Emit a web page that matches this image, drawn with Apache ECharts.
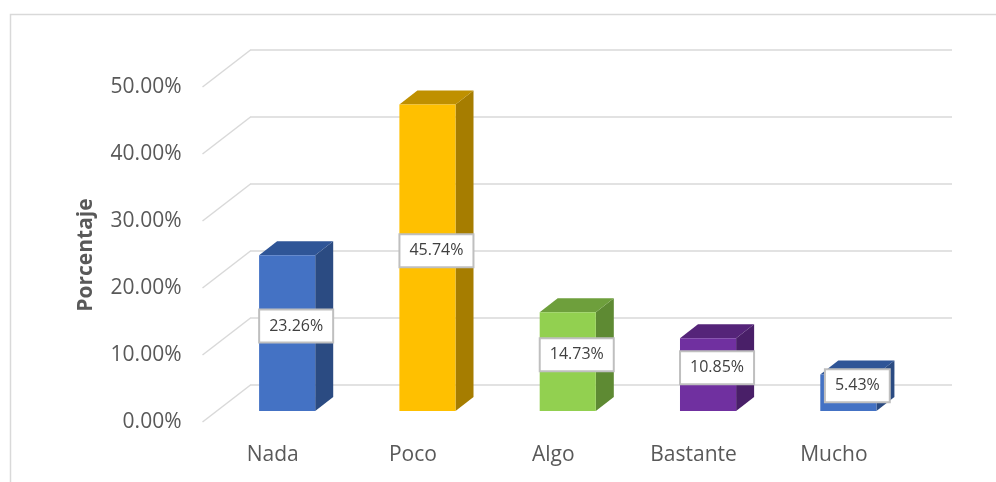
<!DOCTYPE html>
<html>
<head>
<meta charset="utf-8">
<script src="https://cdn.jsdelivr.net/npm/echarts@6/dist/echarts.min.js"></script>
<style>html,body{margin:0;padding:0;background:#fff}#c{width:996px;height:482px}</style>
</head>
<body>
<div id="c"></div>
<script>
var categories = ['Nada', 'Poco', 'Algo', 'Bastante', 'Mucho'];
var values = [23.26, 45.74, 14.73, 10.85, 5.43];
var yTicks = [0, 10, 20, 30, 40, 50];
var frontColors = ['#4472C4', '#FFC000', '#92D050', '#7030A0', '#4472C4'];
var topColors = ['#2F5597', '#BF9000', '#6E9F3C', '#552479', '#2F5597'];
var sideColors = ['#2B4B82', '#A67D00', '#5E8A33', '#491F68', '#2B4B82'];

var FONT = '"Open Sans", "Noto Sans", sans-serif';
var WALL_DEPTH = [48, -37];
var BAR_DEPTH = [18, -14];

var chart = echarts.init(document.getElementById('c'), null, {renderer: 'canvas'});

function barRender(params, api) {
  var idx = api.value(0);
  var v = api.value(1);
  var top = api.coord([idx, v]);
  var base = api.coord([idx, 0]);
  var w = api.size([1, 0])[0] * 0.4;
  var x0 = top[0] - w / 2, x1 = top[0] + w / 2;
  var yt = top[1], yb = base[1];
  var dx = BAR_DEPTH[0], dy = BAR_DEPTH[1];
  var i = params.dataIndex;
  return {
    type: 'group',
    children: [
      {type: 'polygon', shape: {points: [[x1, yt], [x1 + dx, yt + dy], [x1 + dx, yb + dy], [x1, yb]]},
        style: {fill: sideColors[i]}},
      {type: 'polygon', shape: {points: [[x0, yt], [x0 + dx, yt + dy], [x1 + dx, yt + dy], [x1, yt]]},
        style: {fill: topColors[i]}},
      {type: 'rect', shape: {x: x0, y: yt, width: w, height: yb - yt},
        style: {fill: frontColors[i]}},
      {type: 'text', z2: 10,
        x: top[0] + dx / 2, y: (yt + yb) / 2 + dy / 2,
        style: {
          text: v.toFixed(2) + '%',
          fill: '#404040', font: '16px ' + FONT, lineHeight: 19,
          align: 'center', verticalAlign: 'middle',
          backgroundColor: '#FFFFFF', borderColor: '#BFBFBF', borderWidth: 2,
          padding: [6, 9, 6, 9]
        }}
    ]
  };
}

var option = {
  animation: false,
  backgroundColor: '#FFFFFF',
  graphic: [
    {type: 'rect', shape: {x: 10.5, y: 14.5, width: 1000, height: 500},
      style: {fill: 'none', stroke: '#D9D9D9', lineWidth: 1.5}, z: -1},
    {type: 'text', x: 86, y: 255, rotation: Math.PI / 2,
      style: {text: 'Porcentaje', fill: '#595959', font: 'bold 21px ' + FONT,
        align: 'center', verticalAlign: 'middle'}}
  ],
  grid: [
    {left: 217, right: 77.5, top: 76, bottom: 71},
    {left: 202.5, right: 92, top: 87, bottom: 60},
    {left: 250, right: 44, top: 50, bottom: 97}
  ],
  xAxis: [
    {gridIndex: 0, type: 'category', data: categories, show: false},
    {gridIndex: 1, type: 'category', data: categories,
      axisLine: {show: false}, axisTick: {show: false},
      axisLabel: {color: '#595959', fontSize: 21, fontFamily: FONT, margin: 23}},
    {gridIndex: 2, type: 'value', min: 0, max: 1, show: false}
  ],
  yAxis: [
    {gridIndex: 0, type: 'value', min: 0, max: 50, interval: 10, show: false},
    {gridIndex: 1, type: 'value', min: 0, max: 50, interval: 10,
      axisLine: {show: false}, axisTick: {show: false}, splitLine: {show: false},
      axisLabel: {color: '#595959', fontSize: 21, fontFamily: FONT, margin: 21,
        formatter: function (v) { return v.toFixed(2) + '%'; }}},
    {gridIndex: 2, type: 'value', min: 0, max: 50, interval: 10,
      axisLine: {show: false}, axisTick: {show: false}, axisLabel: {show: false},
      splitLine: {show: true, lineStyle: {color: '#D9D9D9', width: 1.5}}}
  ],
  series: [
    {type: 'custom', xAxisIndex: 2, yAxisIndex: 2, renderItem: function () { return null; }, data: []},
    {type: 'custom', xAxisIndex: 1, yAxisIndex: 1, renderItem: function (params, api) {
        var p = api.coord([0, api.value(0)]);
        var left = api.coord([0, 0])[0] - api.size([1, 0])[0] / 2;
        return {type: 'line',
          shape: {x1: left, y1: p[1], x2: left + WALL_DEPTH[0], y2: p[1] + WALL_DEPTH[1]},
          style: {stroke: '#D9D9D9', lineWidth: 1.5}};
      },
      data: yTicks.map(function (t) { return [t]; }), z: 1, silent: true},
    {type: 'custom', xAxisIndex: 0, yAxisIndex: 0, renderItem: barRender,
      data: values.map(function (v, i) { return [i, v]; }), z: 5}
  ]
};
chart.setOption(option);
</script>
</body>
</html>
